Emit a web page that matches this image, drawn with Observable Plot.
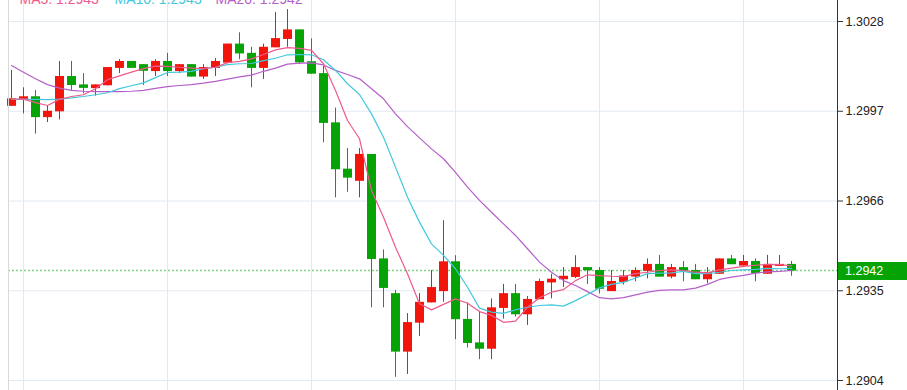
<!DOCTYPE html>
<html><head><meta charset="utf-8">
<script src="https://cdn.jsdelivr.net/npm/d3@7"></script>
<script src="https://cdn.jsdelivr.net/npm/@observablehq/plot@0.6"></script>
<style>body{margin:0;background:#fff;} svg{display:block}</style>
</head><body><div id="chart"></div>
<script>
const openP = [1.29987, 1.30011, 1.30020, 1.29948, 1.29968, 1.30090, 1.30061, 1.30048, 1.30058, 1.30118,
1.30142, 1.30131, 1.30107, 1.30142, 1.30107, 1.30131, 1.30088, 1.30118, 1.30136, 1.30202,
1.30170, 1.30118, 1.30189, 1.30218, 1.30251, 1.30141, 1.30100, 1.29930, 1.29770, 1.29728,
1.29821, 1.29460, 1.29340, 1.29138, 1.29238, 1.29308, 1.29347, 1.29450, 1.29251, 1.29170,
1.29148, 1.29289, 1.29340, 1.29267, 1.29319, 1.29377, 1.29388, 1.29396, 1.29430, 1.29420,
1.29347, 1.29379, 1.29397, 1.29417, 1.29441, 1.29397, 1.29430, 1.29420, 1.29388, 1.29407,
1.29460, 1.29435, 1.29451, 1.29407, 1.29434, 1.29441];
const highP = [1.30111, 1.30051, 1.30042, 1.29987, 1.30142, 1.30142, 1.30100, 1.30061, 1.30121, 1.30148,
1.30142, 1.30131, 1.30148, 1.30170, 1.30131, 1.30131, 1.30131, 1.30152, 1.30202, 1.30241,
1.30191, 1.30202, 1.30311, 1.30321, 1.30251, 1.30220, 1.30125, 1.29981, 1.29841, 1.29841,
1.29821, 1.29491, 1.29351, 1.29271, 1.29340, 1.29420, 1.29592, 1.29471, 1.29308, 1.29279,
1.29322, 1.29372, 1.29372, 1.29330, 1.29390, 1.29407, 1.29430, 1.29471, 1.29430, 1.29430,
1.29420, 1.29420, 1.29429, 1.29460, 1.29472, 1.29441, 1.29451, 1.29441, 1.29430, 1.29460,
1.29472, 1.29472, 1.29460, 1.29472, 1.29472, 1.29451];
const lowP = [1.29987, 1.29961, 1.29891, 1.29931, 1.29940, 1.30042, 1.30030, 1.30022, 1.30058, 1.30100,
1.30118, 1.30059, 1.30090, 1.30090, 1.30100, 1.30088, 1.30080, 1.30090, 1.30134, 1.30148,
1.30051, 1.30080, 1.30189, 1.30191, 1.30131, 1.30098, 1.29861, 1.29671, 1.29690, 1.29671,
1.29291, 1.29291, 1.29051, 1.29061, 1.29192, 1.29308, 1.29310, 1.29181, 1.29152, 1.29112,
1.29112, 1.29252, 1.29259, 1.29230, 1.29319, 1.29322, 1.29361, 1.29392, 1.29372, 1.29339,
1.29347, 1.29370, 1.29381, 1.29391, 1.29397, 1.29391, 1.29381, 1.29388, 1.29374, 1.29407,
1.29440, 1.29435, 1.29381, 1.29407, 1.29434, 1.29400];
const closeP = [1.30013, 1.30020, 1.29948, 1.29970, 1.30090, 1.30059, 1.30049, 1.30061, 1.30121, 1.30142,
1.30118, 1.30108, 1.30142, 1.30107, 1.30131, 1.30088, 1.30121, 1.30142, 1.30202, 1.30168,
1.30118, 1.30191, 1.30221, 1.30251, 1.30137, 1.30098, 1.29928, 1.29768, 1.29739, 1.29821,
1.29458, 1.29358, 1.29138, 1.29240, 1.29310, 1.29361, 1.29450, 1.29250, 1.29168, 1.29148,
1.29291, 1.29340, 1.29267, 1.29320, 1.29382, 1.29390, 1.29400, 1.29430, 1.29419, 1.29355,
1.29382, 1.29401, 1.29420, 1.29441, 1.29397, 1.29430, 1.29417, 1.29388, 1.29413, 1.29460,
1.29440, 1.29451, 1.29409, 1.29441, 1.29441, 1.29418];
const ma5 = [1.30012, 1.30012, 1.30000, 1.29990, 1.30011, 1.30021, 1.30027, 1.30048, 1.30079, 1.30092,
1.30105, 1.30117, 1.30126, 1.30125, 1.30122, 1.30119, 1.30117, 1.30122, 1.30138, 1.30142,
1.30151, 1.30166, 1.30182, 1.30190, 1.30187, 1.30180, 1.30134, 1.30042, 1.29938, 1.29875,
1.29696, 1.29604, 1.29500, 1.29409, 1.29305, 1.29284, 1.29303, 1.29322, 1.29307, 1.29278,
1.29265, 1.29241, 1.29245, 1.29293, 1.29326, 1.29345, 1.29354, 1.29385, 1.29405, 1.29402,
1.29400, 1.29399, 1.29409, 1.29414, 1.29420, 1.29422, 1.29420, 1.29414, 1.29412, 1.29422,
1.29428, 1.29434, 1.29438, 1.29441, 1.29440, 1.29436];
const ma10 = [1.30011, 1.30011, 1.30011, 1.30010, 1.30012, 1.30016, 1.30021, 1.30027, 1.30034, 1.30048,
1.30058, 1.30068, 1.30086, 1.30104, 1.30105, 1.30108, 1.30117, 1.30122, 1.30131, 1.30134,
1.30135, 1.30145, 1.30153, 1.30165, 1.30166, 1.30165, 1.30148, 1.30111, 1.30065, 1.30028,
1.29961, 1.29880, 1.29777, 1.29673, 1.29587, 1.29512, 1.29472, 1.29426, 1.29362, 1.29290,
1.29276, 1.29272, 1.29284, 1.29293, 1.29299, 1.29301, 1.29297, 1.29316, 1.29337, 1.29360,
1.29372, 1.29379, 1.29394, 1.29409, 1.29411, 1.29412, 1.29417, 1.29409, 1.29409, 1.29414,
1.29420, 1.29422, 1.29424, 1.29427, 1.29426, 1.29427];
const ma20 = [1.30128, 1.30105, 1.30082, 1.30062, 1.30050, 1.30042, 1.30039, 1.30038, 1.30038, 1.30038,
1.30039, 1.30042, 1.30049, 1.30055, 1.30059, 1.30062, 1.30067, 1.30073, 1.30081, 1.30089,
1.30095, 1.30108, 1.30119, 1.30133, 1.30136, 1.30137, 1.30130, 1.30111, 1.30097, 1.30082,
1.30048, 1.30013, 1.29961, 1.29917, 1.29878, 1.29840, 1.29806, 1.29759, 1.29708, 1.29662,
1.29621, 1.29581, 1.29541, 1.29495, 1.29449, 1.29414, 1.29385, 1.29368, 1.29347, 1.29326,
1.29322, 1.29326, 1.29336, 1.29345, 1.29351, 1.29353, 1.29353, 1.29359, 1.29372, 1.29389,
1.29397, 1.29403, 1.29411, 1.29415, 1.29417, 1.29420];
const yTicks = [1.2904, 1.2935, 1.2966, 1.2997, 1.3028];
const xGridIdx = [1, 13, 25, 37, 49, 61];
const legendLabels = ["MA5: 1.2943", "MA10: 1.2943", "MA20: 1.2942"];
const lastPrice = 1.2942;

const UP = "#f2150c", DOWN = "#05a305";
const C5 = "#ef5a8c", C10 = "#42c8dc", C20 = "#b65fca";
const GRID = "#e2eaf1";

const candles = openP.map((o, i) => ({i, open: o, high: highP[i], low: lowP[i], close: closeP[i]}));
const ups = candles.filter(d => d.close >= d.open);
const downs = candles.filter(d => d.close < d.open);
const maLine = (arr, color) => Plot.line(arr, {x: (d, i) => i, y: d => d, stroke: color, strokeWidth: 1.2});

const chart = Plot.plot({
  width: 907, height: 390,
  marginLeft: 8, marginRight: 70, marginTop: 0, marginBottom: 0,
  x: {type: "linear", domain: [0, 65], range: [11, 791], axis: null},
  y: {domain: [1.2904, 1.3028], range: [380, 21], axis: null},
  style: {fontFamily: "'Liberation Sans', Arial, sans-serif", fontSize: "12.5px", background: "#fff", overflow: "visible"},
  marks: [
    Plot.ruleX(xGridIdx, {stroke: GRID}),
    Plot.ruleY(yTicks, {stroke: GRID}),
    Plot.ruleY([lastPrice], {stroke: "#7fd47f", strokeDasharray: "2,2", strokeWidth: 1.5}),
    Plot.ruleX(ups, {x: "i", y1: "low", y2: "high", stroke: UP}),
    Plot.ruleX(downs, {x: "i", y1: "low", y2: "high", stroke: DOWN}),
    Plot.ruleX(ups, {x: "i", y1: "open", y2: "close", stroke: UP, strokeWidth: 9}),
    Plot.ruleX(downs, {x: "i", y1: "open", y2: "close", stroke: DOWN, strokeWidth: 9}),
    maLine(ma20, C20),
    maLine(ma10, C10),
    maLine(ma5, C5),
    Plot.axisY({anchor: "right", ticks: yTicks, tickFormat: d => d.toFixed(4), tickSize: 5, tickPadding: 3, stroke: "#333", fill: "#222"}),
    Plot.text([legendLabels[0]], {frameAnchor: "top-left", dx: 11, dy: 3, lineAnchor: "bottom", textAnchor: "start", fill: C5, fontSize: 14}),
    Plot.text([legendLabels[1]], {frameAnchor: "top-left", dx: 106, dy: 3, lineAnchor: "bottom", textAnchor: "start", fill: C10, fontSize: 14}),
    Plot.text([legendLabels[2]], {frameAnchor: "top-left", dx: 207, dy: 3, lineAnchor: "bottom", textAnchor: "start", fill: C20, fontSize: 14})
  ]
});
document.getElementById("chart").appendChild(chart);

// frame edges and current price tag, positioned through Plot's own scales
const svg = d3.select(chart);
const yS = chart.scale("y");
const left = 8, right = 907 - 70;
svg.append("line").attr("x1", left + 0.5).attr("x2", left + 0.5).attr("y1", 0).attr("y2", 390).attr("stroke", "#d9d9d9");
svg.append("line").attr("x1", right + 0.5).attr("x2", right + 0.5).attr("y1", 0).attr("y2", 390).attr("stroke", "#333");
const py = yS.apply(lastPrice);
svg.append("rect").attr("x", right + 1).attr("y", py - 8).attr("width", 907 - right - 1).attr("height", 18).attr("fill", "#05a305");
svg.append("text").attr("x", right + 8).attr("y", py + 1).attr("dy", "0.35em").attr("fill", "#fff")
  .attr("text-anchor", "start")
  .attr("font-family", "'Liberation Sans', Arial, sans-serif").attr("font-size", "12.5px").text(lastPrice.toFixed(4));
</script>
</body></html>
